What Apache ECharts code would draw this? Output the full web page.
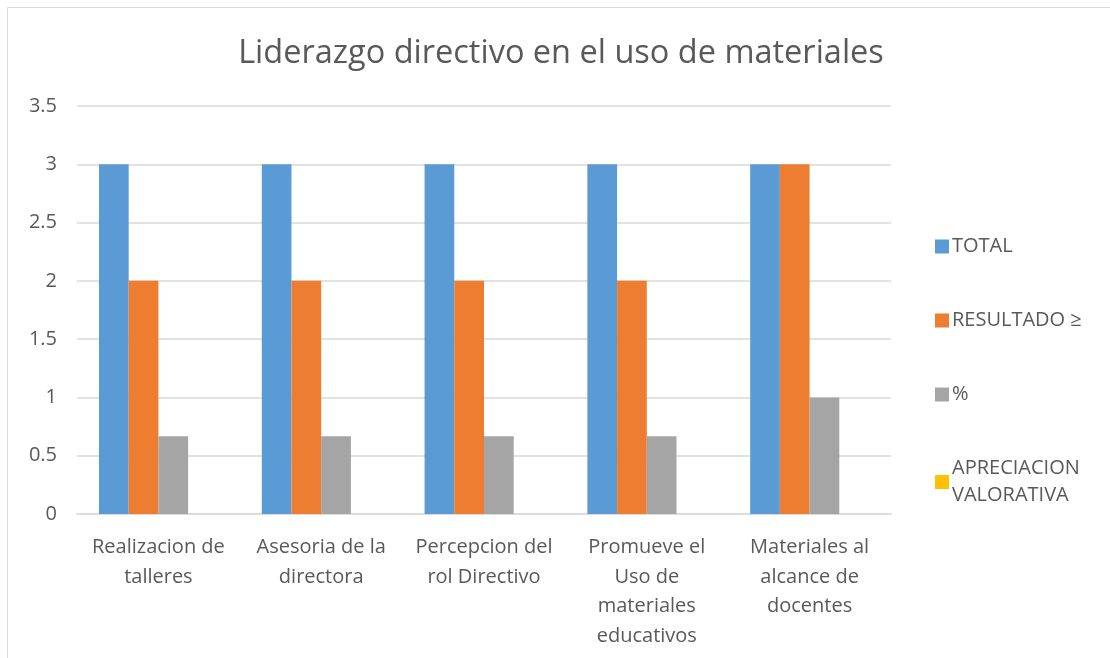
<!DOCTYPE html>
<html>
<head>
<meta charset="utf-8">
<script src="https://cdn.jsdelivr.net/npm/echarts@6/dist/echarts.min.js"></script>
<style>
html,body{margin:0;padding:0;background:#fff;}
#frame{position:absolute;left:7px;top:7px;width:1110px;height:660px;border-left:1.5px solid #d9d9d9;border-top:1.5px solid #d9d9d9;box-sizing:border-box;}
#c{position:absolute;left:0;top:0;width:1110px;height:658px;}
</style>
</head>
<body>
<div id="frame"></div>
<div id="c"></div>
<script>
const categories = ["Realizacion de\ntalleres", "Asesoria de la\ndirectora", "Percepcion del\nrol Directivo", "Promueve el\nUso de\nmateriales\neducativos", "Materiales al\nalcance de\ndocentes"];
const totalValues = [3, 3, 3, 3, 3];
const resultadoValues = [2, 2, 2, 2, 3];
const pctValues = [0.667, 0.667, 0.667, 0.667, 1];
const apreciacionValues = [null, null, null, null, null];
const seriesNames = ["TOTAL", "RESULTADO ≥", "%", "APRECIACION VALORATIVA"];
const yTicks = [0, 0.5, 1, 1.5, 2, 2.5, 3, 3.5];

const colors = ["#5B9BD5", "#ED7D31", "#A5A5A5", "#FFC000"];
const font = "'Open Sans', sans-serif";
const chart = echarts.init(document.getElementById('c'), null, {renderer: 'canvas'});
const dataSets = [totalValues, resultadoValues, pctValues, apreciacionValues];
chart.setOption({
  animation: false,
  color: colors,
  title: {
    text: "Liderazgo directivo en el uso de materiales",
    left: 556, top: 32, textAlign: 'center',
    textStyle: {fontFamily: font, fontSize: 32.5, fontWeight: 'normal', color: '#595959'}
  },
  legend: {
    orient: 'vertical', left: 930, top: 228,
    itemWidth: 14, itemHeight: 14, itemGap: 47,
    icon: 'rect',
    formatter: function(n){ return n === "APRECIACION VALORATIVA" ? "APRECIACION\nVALORATIVA" : n; },
    textStyle: {fontFamily: font, fontSize: 20, color: '#595959', lineHeight: 27, padding: [0,0,0,-2]},
    data: seriesNames
  },
  grid: {left: 77, right: 219, top: 106, bottom: 144, containLabel: false},
  xAxis: {
    type: 'category', data: categories,
    axisLine: {lineStyle: {color: '#d9d9d9', width: 1.5}},
    axisTick: {show: false},
    axisLabel: {fontFamily: font, fontSize: 20, color: '#595959', lineHeight: 29.5, margin: 19, interval: 0}
  },
  yAxis: {
    type: 'value', min: 0, max: 3.5, interval: 0.5,
    axisLine: {show: false}, axisTick: {show: false},
    splitLine: {lineStyle: {color: '#d9d9d9', width: 1.5}},
    axisLabel: {fontFamily: font, fontSize: 20, color: '#595959', margin: 20,
      formatter: function(v){ return String(v); }}
  },
  series: seriesNames.map(function(n, i){
    return {name: n, type: 'bar', data: dataSets[i], barGap: '0%', barCategoryGap: '27%'};
  })
});
</script>
</body>
</html>
